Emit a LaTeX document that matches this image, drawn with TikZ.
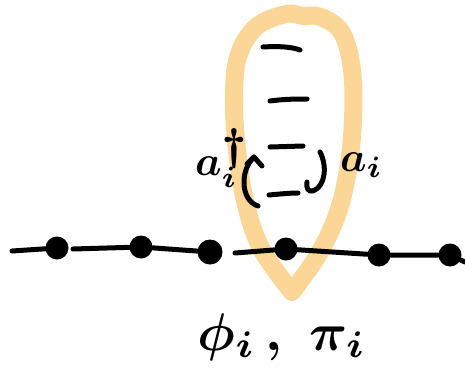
\documentclass[tikz,border=0pt]{standalone}
\usepackage{graphicx}
\usepackage{amsmath}
\definecolor{loopor}{RGB}{252,214,150}
\tikzset{
  loopline/.style={draw=loopor,line width=18pt,line join=round,line cap=round},
  ink/.style={draw=black,line width=5pt,line cap=round,line join=round},
  level/.style={draw=black,line width=5pt,line cap=round},
  dot/.style={circle,fill=black,inner sep=0pt,minimum size=23pt},
  lbl/.style={inner sep=0pt,font=\boldmath}
}
\begin{document}
\begin{tikzpicture}[x=1pt,y=-1pt]
\useasboundingbox (0,0) rectangle (465,383);
% orange loop
\draw[loopline] plot[smooth,tension=0.6] coordinates {(292,292) (262,250) (246,205) (237,150) (234,100) (238,57) (256,27) (286,14) (303,16) (321,17) (342,33) (352,70) (353,120) (348,170) (337,215) (318,255) (292,292)};
% levels
\draw[level] (263,47) .. controls (280,46) and (292,47) .. (300,50);
\draw[level] (270,101) .. controls (285,99) and (297,99) .. (307,99);
\draw[level] (270,147) -- (303,146);
\draw[level] (269,195) .. controls (280,194) and (290,193) .. (298,193);
% operator arrows
\draw[ink] (247,164) -- (254,157) -- (262,166);
\draw[ink] (254,157) .. controls (240,170) and (240,200) .. (258,206);
\draw[ink] (320,152) .. controls (327,165) and (326,186) .. (313,191) .. controls (308,192) and (306,188) .. (307,182);
% chain
\coordinate (s1) at (12,251);
\coordinate (s2) at (73,249);
\coordinate (s3) at (235,253);
\coordinate (s4) at (465,262);
\node[dot] (d1) at (57,248) {};
\node[dot] (d2) at (141,247) {};
\node[dot,minimum size=25pt] (d3) at (210,252) {};
\node[dot] (d4) at (286,249) {};
\node[dot] (d5) at (379,255) {};
\node[dot] (d6) at (450,255) {};
\draw[ink] (s1) -- (d1);
\draw[ink] (s2) -- (d2) -- (d3);
\draw[ink] (s3) -- (d4) -- (d5) -- (d6) -- (s4);
% labels
\node[lbl,anchor=base west] (ad) at (195,175) {\scalebox{4.2}{$a_i^{\smash{\scalebox{1.5}{$\scriptstyle\dagger$}}}$}};
\node[lbl,anchor=base west] (a) at (340,171) {\scalebox{4.2}{$a_i$}};
\node[lbl,anchor=base] (phipi) at (282,350) {\scalebox{5.3}{$\phi_i\,,\;\pi_i$}};
\end{tikzpicture}
\end{document}
